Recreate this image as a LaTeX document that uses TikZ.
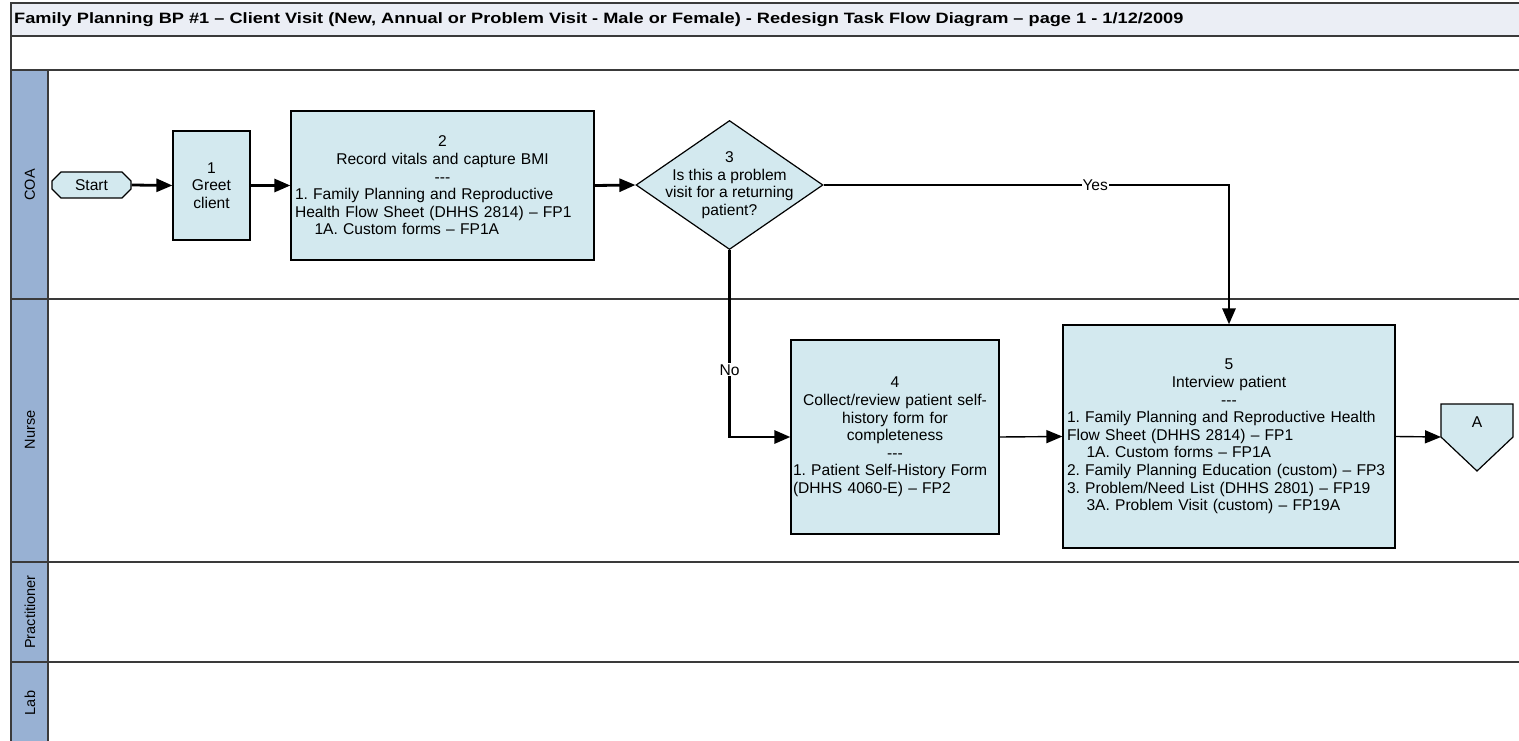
\documentclass[tikz,border=0pt]{standalone}
\usepackage{graphicx}
\usepackage{fontspec}
\setmainfont{Liberation Sans}
\usetikzlibrary{arrows.meta,shapes.misc,shapes.geometric}
\definecolor{boxfill}{HTML}{D3E9EF}
\definecolor{lanefill}{HTML}{98B1D3}
\definecolor{titlefill}{HTML}{EBEEF5}
\definecolor{framecol}{HTML}{3A3A3A}
\frenchspacing
\newcommand{\nf}{\fontsize{15.6}{17.6}\selectfont\setlength{\parindent}{0pt}}
\newcommand{\sep}{-{}-{}-}
\tikzset{
  frame/.style={draw=framecol, line width=1.6pt},
  lanelabel/.style={rotate=90, font=\fontsize{14.5}{16}\selectfont, inner sep=0},
  taskbox/.style={draw=black, fill=boxfill, line width=1.2pt, font=\nf, inner sep=0},
  startbox/.style={chamfered rectangle, chamfered rectangle xsep=6pt, draw=black, fill=boxfill, line width=1.2pt, font=\nf, minimum width=79pt, minimum height=26pt, inner sep=0},
  decbox/.style={diamond, draw=black, fill=boxfill, line width=1.2pt, minimum width=187pt, minimum height=129pt, inner sep=0},
  flowthick/.style={line width=2.8pt, -{Triangle[length=16pt,width=13pt]}},
  flowthin/.style={line width=1.4pt, -{Triangle[length=16pt,width=13pt]}},
  lbl/.style={fill=white, font=\nf, inner sep=1pt}
}
\begin{document}
\begin{tikzpicture}[x=1pt,y=-1pt]
\useasboundingbox (0,0) rectangle (1519,741);
\clip (0,0) rectangle (1519,741);
\fill[white] (0,0) rectangle (1519,741);
% title bar
\fill[titlefill] (11,3) rectangle (1530,36);
\draw[frame] (11,3) rectangle (1530,36);
\node[anchor=west, font=\bfseries\fontsize{15}{17}\selectfont, inner sep=0] (title) at (14,20) {\scalebox{1.213}[1]{Family Planning BP \#1 -- Client Visit (New, Annual or Problem Visit - Male or Female) - Redesign Task Flow Diagram -- page 1 - 1/12/2009}};
\draw[frame] (11,36) rectangle (1530,70);
% lanes
\fill[lanefill] (11,70) rectangle (48,760);
\draw[frame] (11,70) rectangle (1530,760);
\draw[frame] (48,70) -- (48,760);
\draw[frame] (11,299) -- (1530,299);
\draw[frame] (11,562) -- (1530,562);
\draw[frame] (11,662) -- (1530,662);
\node[lanelabel] (lCOA) at (30,185) {COA};
\node[lanelabel] (lNurse) at (30,430) {Nurse};
\node[lanelabel] (lPract) at (30,612) {Practitioner};
\node[lanelabel] (lLab) at (30,703) {Lab};
% nodes
\node[startbox] (start) at (91.5,185) {Start};
\node[taskbox, minimum width=77pt, minimum height=109pt, align=center] (b1) at (211.5,185.5) {1\\Greet\\client};
\node[taskbox, minimum width=303pt, minimum height=149pt, text width=295pt] (b2) at (442.5,185.5)
 {\centering 2\\Record vitals and capture BMI\\\sep\par
  \raggedright 1. Family Planning and Reproductive\\Health Flow Sheet (DHHS 2814) -- FP1\\\hspace*{1.25em}1A. Custom forms -- FP1A\par};
\node[decbox] (d3) at (729.5,185) {};
\node[font=\nf, align=center, inner sep=0] (d3t) at (d3) {3\\Is this a problem\\visit for a returning\\patient?};
\node[taskbox, minimum width=208pt, minimum height=194pt, text width=204pt] (b4) at (895,437)
 {\centering 4\\Collect/review patient self-\\history form for\\completeness\\\sep\par
  \raggedright 1. Patient Self-History Form\\(DHHS 4060-E) -- FP2\par};
\node[taskbox, minimum width=332pt, minimum height=223pt, text width=324pt] (b5) at (1229,436.5)
 {\centering 5\\Interview patient\\\sep\par
  \raggedright 1. Family Planning and Reproductive Health\\Flow Sheet (DHHS 2814) -- FP1\\\hspace*{1.25em}1A. Custom forms -- FP1A\\2. Family Planning Education (custom) -- FP3\\3. Problem/Need List (DHHS 2801) -- FP19\\\hspace*{1.25em}3A. Problem Visit (custom) -- FP19A\par};
% off-page connector A
\draw[draw=black, fill=boxfill, line width=1.2pt] (1441,404) -- (1513,404) -- (1513,437) -- (1477,471) -- (1441,437) -- cycle;
\coordinate (Ain) at (1441,437);
\node[font=\nf, inner sep=0] (A) at (1477,422) {A};
% connectors
\draw[flowthick] (start.east) -- (b1.west);
\draw[flowthick] (b1.east) -- (b2.west);
\draw[flowthick] (b2.east) -- (d3.west);
\draw[flowthick] (d3.east) -| node[lbl, pos=0.335] (yes) {Yes} (b5.north);
\draw[flowthick] (d3.south) |- node[lbl, pos=0.32] (no) {No} (b4.west);
\draw[flowthin] (b4.east) -- (b5.west);
\draw[flowthin] (b5.east) -- (Ain);
\end{tikzpicture}
\end{document}
